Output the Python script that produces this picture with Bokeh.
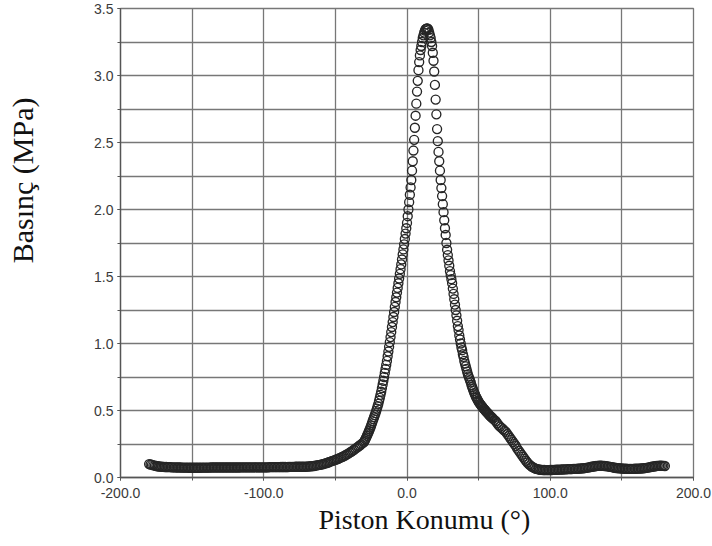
import numpy as np
from bokeh.plotting import figure
from bokeh.models import Title, FixedTicker, NumeralTickFormatter, LinearAxis
from bokeh.embed import file_html
from bokeh.resources import INLINE

# ---- data ----
# crank angle grid of each segment (degrees)
angle_left = np.arange(-180, -30, 1.0)        # -180 .. -31, step 1
angle_mid = np.arange(-30, 60.5, 0.5)         # -30 .. 60, step 0.5
angle_right = np.arange(61, 181, 1.0)         # 61 .. 180, step 1

pressure_left = [
    0.100, 0.097, 0.094, 0.091, 0.088, 0.086, 0.084, 0.082, 0.081, 0.080,
    0.079, 0.078, 0.078, 0.077, 0.077, 0.077, 0.076, 0.076, 0.076, 0.075,
    0.075, 0.075, 0.075, 0.074, 0.074, 0.074, 0.074, 0.074, 0.073, 0.073,
    0.073, 0.073, 0.073, 0.073, 0.073, 0.073, 0.074, 0.074, 0.074, 0.074,
    0.074, 0.074, 0.074, 0.075, 0.075, 0.075, 0.075, 0.075, 0.075, 0.075,
    0.075, 0.075, 0.075, 0.075, 0.075, 0.075, 0.075, 0.075, 0.075, 0.075,
    0.075, 0.075, 0.075, 0.075, 0.076, 0.076, 0.076, 0.076, 0.076, 0.076,
    0.076, 0.076, 0.076, 0.076, 0.076, 0.076, 0.076, 0.076, 0.076, 0.076,
    0.076, 0.076, 0.076, 0.076, 0.077, 0.077, 0.077, 0.077, 0.077, 0.077,
    0.077, 0.077, 0.078, 0.078, 0.078, 0.078, 0.078, 0.078, 0.079, 0.079,
    0.079, 0.079, 0.080, 0.080, 0.080, 0.080, 0.080, 0.080, 0.080, 0.080,
    0.081, 0.082, 0.083, 0.084, 0.085, 0.086, 0.088, 0.090, 0.092, 0.094,
    0.096, 0.099, 0.102, 0.105, 0.108, 0.112, 0.116, 0.120, 0.124, 0.128,
    0.132, 0.136, 0.140, 0.145, 0.150, 0.155, 0.160, 0.166, 0.172, 0.178,
    0.185, 0.192, 0.199, 0.207, 0.215, 0.223, 0.231, 0.239, 0.247, 0.256,
]

pressure_mid = [
    # -30 .. -0.5
    0.265, 0.276, 0.287, 0.298, 0.310, 0.322, 0.334, 0.347, 0.360, 0.374,
    0.388, 0.404, 0.420, 0.435, 0.450, 0.465, 0.480, 0.497, 0.514, 0.532,
    0.550, 0.572, 0.594, 0.617, 0.640, 0.667, 0.694, 0.722, 0.750, 0.780,
    0.810, 0.840, 0.870, 0.905, 0.940, 0.975, 1.010, 1.048, 1.085, 1.123,
    1.160, 1.198, 1.235, 1.273, 1.310, 1.345, 1.380, 1.415, 1.450, 1.485,
    1.520, 1.555, 1.590, 1.627, 1.665, 1.702, 1.740, 1.780, 1.820, 1.860,
    # 0 .. 14
    1.900, 1.950, 2.000, 2.055, 2.110, 2.165, 2.220, 2.290, 2.360, 2.440,
    2.520, 2.610, 2.700, 2.790, 2.880, 2.960, 3.040, 3.100, 3.150, 3.190,
    3.220, 3.250, 3.280, 3.300, 3.320, 3.335, 3.345, 3.350, 3.352,
    # 14.5 .. 60
    3.350, 3.340, 3.320, 3.300, 3.280, 3.250, 3.220, 3.170, 3.110, 3.030,
    2.930, 2.820, 2.710, 2.600, 2.510, 2.430, 2.360, 2.290, 2.220, 2.160,
    2.100, 2.040, 1.980, 1.920, 1.860, 1.810, 1.750, 1.700, 1.660, 1.620,
    1.580, 1.540, 1.510, 1.480, 1.450, 1.410, 1.370, 1.330, 1.290, 1.250,
    1.210, 1.170, 1.130, 1.100, 1.060, 1.030, 1.000, 0.970, 0.950, 0.920,
    0.900, 0.870, 0.850, 0.830, 0.810, 0.790, 0.770, 0.755, 0.740, 0.725,
    0.710, 0.690, 0.675, 0.660, 0.645, 0.630, 0.620, 0.605, 0.595, 0.585,
    0.575, 0.565, 0.557, 0.550, 0.542, 0.535, 0.528, 0.521, 0.514, 0.508,
    0.502, 0.496, 0.490, 0.484, 0.478, 0.472, 0.466, 0.460, 0.455, 0.450,
    0.445, 0.440,
]

pressure_right = [
    0.430, 0.420, 0.405, 0.390, 0.380, 0.370, 0.360, 0.350, 0.340, 0.325,
    0.310, 0.295, 0.280, 0.265, 0.250, 0.235, 0.215, 0.200, 0.185, 0.170,
    0.155, 0.140, 0.125, 0.112, 0.100, 0.090, 0.082, 0.075, 0.070, 0.065,
    0.062, 0.060, 0.058, 0.057, 0.056, 0.056, 0.055, 0.055, 0.055, 0.056,
    0.056, 0.057, 0.057, 0.058, 0.058, 0.059, 0.059, 0.060, 0.060, 0.061,
    0.061, 0.062, 0.062, 0.063, 0.063, 0.064, 0.064, 0.065, 0.065, 0.066,
    0.067, 0.068, 0.069, 0.070, 0.072, 0.074, 0.076, 0.078, 0.080, 0.082,
    0.084, 0.086, 0.087, 0.088, 0.088, 0.088, 0.087, 0.086, 0.085, 0.083,
    0.081, 0.079, 0.077, 0.075, 0.073, 0.071, 0.070, 0.069, 0.068, 0.067,
    0.066, 0.065, 0.065, 0.064, 0.064, 0.064, 0.064, 0.064, 0.065, 0.065,
    0.066, 0.066, 0.067, 0.068, 0.069, 0.070, 0.072, 0.074, 0.076, 0.078,
    0.080, 0.082, 0.084, 0.086, 0.087, 0.088, 0.088, 0.088, 0.087, 0.086,
]

assert len(angle_left) == len(pressure_left)
assert len(angle_mid) == len(pressure_mid)
assert len(angle_right) == len(pressure_right)

x_ticks = [-200, -100, 0, 100, 200]
x_grid = [-200, -150, -100, -50, 0, 50, 100, 150, 200]
y_ticks = [0.0, 0.5, 1.0, 1.5, 2.0, 2.5, 3.0, 3.5]
y_grid = [0.0, 0.25, 0.5, 0.75, 1.0, 1.25, 1.5, 1.75, 2.0, 2.25, 2.5, 2.75, 3.0, 3.25, 3.5]

x_label = "Piston Konumu (°)"
y_label = "Basınç (MPa)"

angle = [float(a) for a in angle_left] + [float(a) for a in angle_mid] + [float(a) for a in angle_right]
pressure = pressure_left + pressure_mid + pressure_right

# ---- figure ----
p = figure(width=712, height=546, x_range=(-200, 200), y_range=(0, 3.5),
           output_backend="svg", toolbar_location=None,
           min_border_left=120, min_border_right=19,
           min_border_top=8, min_border_bottom=69)
p.background_fill_color = "white"
p.border_fill_color = "white"
p.outline_line_color = "#777777"
p.outline_line_width = 1.3

p.xaxis.ticker = FixedTicker(ticks=x_ticks, minor_ticks=x_grid)
p.yaxis.ticker = FixedTicker(ticks=y_ticks, minor_ticks=y_grid)
p.xgrid.ticker = FixedTicker(ticks=x_grid)
p.ygrid.ticker = FixedTicker(ticks=y_grid)
for g in (p.xgrid, p.ygrid):
    g.grid_line_color = "#777777"
    g.grid_line_width = 1.3

for ax in (p.xaxis, p.yaxis):
    ax.formatter = NumeralTickFormatter(format="0.0")
    ax.axis_line_color = "#555555"
    ax.axis_line_width = 1.3
    ax.major_tick_line_color = "#555555"
    ax.minor_tick_line_color = "#555555"
    ax.major_tick_in = 0
    ax.major_tick_out = 3
    ax.minor_tick_in = 0
    ax.minor_tick_out = 3
    ax.major_label_text_font = "Liberation Sans"
    ax.major_label_text_font_size = "14px"
    ax.major_label_text_color = "#3a3a3a"
p.xaxis.major_label_standoff = 7
p.yaxis.major_label_standoff = 4

p.scatter(angle, pressure, marker="circle", size=9, fill_color=None,
          line_color="#262626", line_width=1.35)

# blank spacer axis (white tick, no label) that pushes the y title outwards
spacer = LinearAxis(ticker=FixedTicker(ticks=[1.75], minor_ticks=[]),
                    major_tick_out=52, major_tick_in=0,
                    axis_line_color=None,
                    major_tick_line_color="white",
                    minor_tick_line_color=None,
                    major_label_overrides={1.75: ""},
                    major_label_standoff=0,
                    major_label_text_font_size="1px")
p.add_layout(spacer, "left")

p.add_layout(Title(text=y_label, align="right", offset=89,
                   text_font="Liberation Serif", text_font_size="30px",
                   text_font_style="normal", text_color="#111111",
                   standoff=2), "left")
p.add_layout(Title(text=x_label, align="left", offset=198,
                   text_font="Liberation Serif", text_font_size="28px",
                   text_font_style="normal", text_color="#111111",
                   standoff=2), "below")

open("out.html", "w").write(file_html(p, INLINE))
